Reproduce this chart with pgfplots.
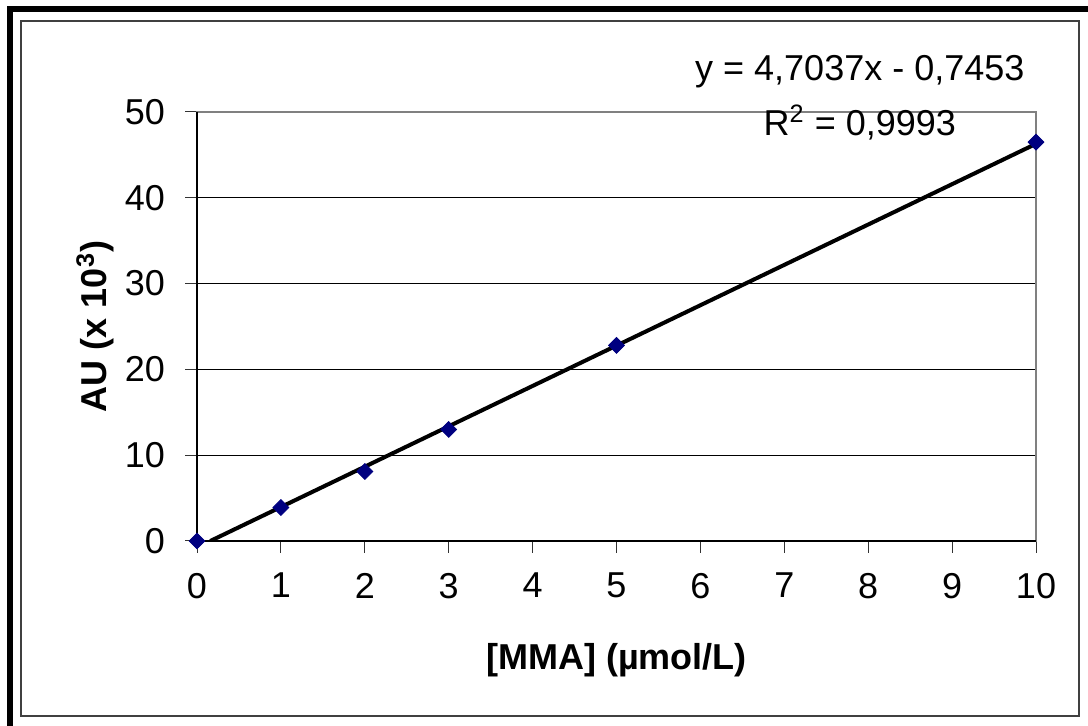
\documentclass[border=0pt]{standalone}
\usepackage{pgfplots}
\pgfplotsset{compat=1.18}
\usepackage{fontspec}
\setmainfont{Liberation Sans}
\definecolor{navymark}{RGB}{0,0,128}
\definecolor{framegray}{RGB}{128,128,128}
\begin{document}
\begin{tikzpicture}[x=0.5pt,y=0.5pt]
\useasboundingbox (0,0) rectangle (1088,726);
% outer frame
\fill[black] (7,0) rectangle (13,720);
\fill[black] (7,714) rectangle (1088,720);
\draw[line width=0.8pt, black!75] (21,10) rectangle (1079,705);
\begin{axis}[
  at={(98.5pt,92.5pt)}, anchor=south west,
  scale only axis, width=419.5pt, height=214.5pt,
  xmin=0, xmax=10, ymin=0, ymax=50,
  xtick={0,1,...,10}, ytick={0,10,...,50},
  tick pos=left, tick align=outside, major tick length=6pt,
  tick style={black!80, line width=0.5pt},
  axis line style={framegray, line width=0.6pt},
  ymajorgrids, grid style={black, line width=0.5pt},
  /pgf/number format/assume math mode=true,
  ticklabel style={font=\fontsize{18}{21}\selectfont},
  yticklabel style={xshift=-6.5pt},
  xticklabel style={yshift=-6.5pt},
  label style={font=\fontsize{18}{21}\selectfont\bfseries},
  xlabel={[MMA] (µmol/L)},
  ylabel={AU (x 10\textsuperscript{3})},
  xlabel style={at={(axis description cs:0.5,-0.277)}, anchor=center},
  ylabel style={at={(axis description cs:-0.1216,0.5)}, anchor=center},
  clip mode=individual,
]
\draw[black, line width=0.6pt] (axis cs:0,0) -- (axis cs:0,50);
\draw[black, line width=0.6pt] (axis cs:0,0) -- (axis cs:10,0);
\addplot[black, line width=2pt, no marks] coordinates {(0.1585,0) (10,46.2917)};
\addplot[only marks, mark=square*, mark size=2.8pt, mark options={rotate=45}, color=navymark]
  coordinates {(0,0) (1,3.9) (2,8.1) (3,13.0) (5,22.8) (10,46.5)};
\node[font=\fontsize{18}{21}\selectfont] at (axis cs:7.9,54.7) {y = 4,7037x - 0,7453};
\node[font=\fontsize{18}{21}\selectfont] at (axis cs:7.9,48.8) {R\textsuperscript{2} = 0,9993};
\end{axis}
\end{tikzpicture}
\end{document}
